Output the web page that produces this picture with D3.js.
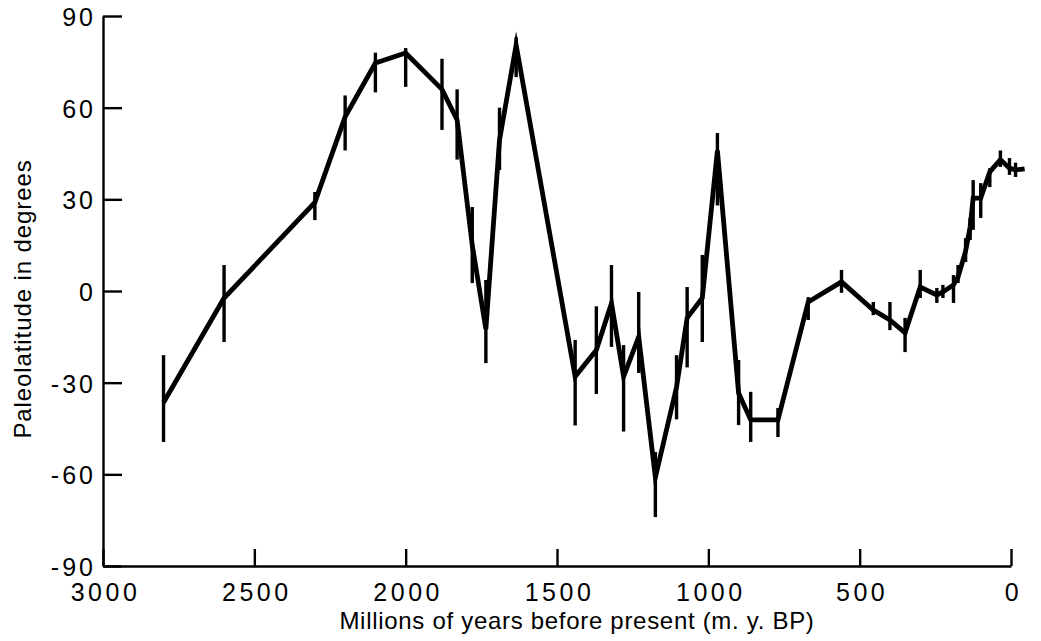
<!DOCTYPE html>
<html>

<head>
    <meta charset="utf-8">
    <title>Paleolatitude</title>
    <script src="https://d3js.org/d3.v7.min.js"></script>
</head>

<body style="margin: 0; padding: 0; background: #fff;">
    <div id="container"></div>

    <script>
        // Idade (m.y. BP), paleolatitude e barras de erro
        var ages = [2800, 2600, 2300, 2200, 2100, 2000, 1880, 1830, 1780, 1735, 1690, 1635,
            1440, 1370, 1320, 1280, 1230, 1175, 1105, 1070, 1020, 970, 900, 860, 770, 670,
            560, 455, 400, 350, 300, 245, 225, 190, 175, 150, 135, 125, 100, 70, 35, 5, -15, -45];
        var lats = [-36.5, -2.3, 29, 57, 74.6, 77.9, 66, 56, 15, -12.5, 49.4, 80.5,
            -28, -19.3, -4, -28, -15, -61, -31.4, -8.8, -2.3, 46, -33.4, -42.2, -42.2, -3.6,
            3, -6.2, -9.5, -13.7, 1.3, -1.3, -0.3, 2, 4.6, 13, 21, 30.4, 30.4, 39, 43, 40.2, 39.6, 40];
        var errHigh = [-21, 8.5, 32.4, 64, 78, 79.5, 76, 66, 27.5, 3.6, 60, 83,
            -16, -5, 8.5, -17.7, -0.3, -52.7, -21, 1.3, 11.8, 51.7, -22.6, -33, -38.3, -2,
            6.9, -3.6, -3.6, -8.8, 6.9, 1, 2, 5.2, 8.5, 17.3, 23.9, 36.3, 35.3, 40.2, 46, 43.5, 42, null];
        var errLow = [-49.4, -16.7, 23.2, 46, 65, 66.8, 52.7, 43, 2.6, -23.6, 39.6, 70,
            -44, -33.7, -18.3, -46, -26.8, -74, -42, -25, -16.7, 28, -43.9, -49.4, -47.8, -9.5,
            -0.6, -7.9, -12.8, -20, -2.3, -3.9, -2.3, -3.9, 2.6, 9.5, 16.7, 20, 23.9, 34, 40.6, 38, 37.3, null];

        var xTicks = [3000, 2500, 2000, 1500, 1000, 500, 0];
        var yTicks = [90, 60, 30, 0, -30, -60, -90];

        var width = 1041, height = 641;
        var font = "'Liberation Sans', Arial, Helvetica, sans-serif";

        var svg = d3.select("#container").append("svg")
            .attr("width", width)
            .attr("height", height)
            .style("display", "block");

        var x = d3.scaleLinear().domain([3000, 0]).range([103, 1011]);
        var y = d3.scaleLinear().domain([-90, 90]).range([566, 16]);

        // rotulos com hifen simples, como no original
        var plain = d => String(d);

        // eixo y (ticks para dentro)
        var yAxis = svg.append("g")
            .attr("transform", "translate(103,0)")
            .call(d3.axisLeft(y).tickValues(yTicks).tickFormat(plain)
                .tickSize(-19).tickSizeOuter(0).tickPadding(7));
        yAxis.select(".domain").attr("stroke-width", 2.4).attr("stroke", "#000");
        yAxis.selectAll(".tick line").attr("stroke-width", 2.4).attr("stroke", "#000");
        yAxis.selectAll(".tick text")
            .attr("dy", "0.38em")
            .style("font-family", font)
            .style("font-size", "25px")
            .style("letter-spacing", "3px")
            .style("fill", "#000");

        // eixo x (ticks para cima)
        var xAxis = svg.append("g")
            .attr("transform", "translate(0,566)")
            .call(d3.axisBottom(x).tickValues(xTicks).tickFormat(plain)
                .tickSize(-17).tickSizeOuter(0).tickPadding(17));
        xAxis.select(".domain").attr("stroke-width", 2.4).attr("stroke", "#000");
        xAxis.selectAll(".tick line").attr("stroke-width", 2.4).attr("stroke", "#000");
        xAxis.selectAll(".tick text")
            .attr("dy", "0.71em")
            .attr("dx", "2px")
            .style("font-family", font)
            .style("font-size", "25px")
            .style("letter-spacing", "3.5px")
            .style("fill", "#000");

        // titulos dos eixos
        svg.append("text")
            .attr("x", 577)
            .attr("y", 629)
            .attr("text-anchor", "middle")
            .style("font-family", font)
            .style("font-size", "24px")
            .style("letter-spacing", "0.7px")
            .style("fill", "#000")
            .text("Millions of years before present (m. y. BP)");

        svg.append("text")
            .attr("transform", "translate(31,299) rotate(-90)")
            .attr("text-anchor", "middle")
            .style("font-family", font)
            .style("font-size", "24px")
            .style("letter-spacing", "0.9px")
            .style("fill", "#000")
            .text("Paleolatitude in degrees");

        var points = ages.map(function (a, i) {
            return { age: a, lat: lats[i], hi: errHigh[i], lo: errLow[i] };
        });

        // barras de erro
        svg.append("g").selectAll("line")
            .data(points.filter(d => d.hi !== null))
            .enter().append("line")
            .attr("x1", d => x(d.age))
            .attr("x2", d => x(d.age))
            .attr("y1", d => y(d.hi))
            .attr("y2", d => y(d.lo))
            .attr("stroke", "#000")
            .attr("stroke-width", 3.4);

        // curva principal
        var line = d3.line()
            .x(d => x(d.age))
            .y(d => y(d.lat));

        svg.append("path")
            .datum(points)
            .attr("d", line)
            .attr("fill", "none")
            .attr("stroke", "#000")
            .attr("stroke-width", 4.8)
            .attr("stroke-linejoin", "miter")
            .attr("stroke-miterlimit", 6);
    </script>
</body>

</html>
